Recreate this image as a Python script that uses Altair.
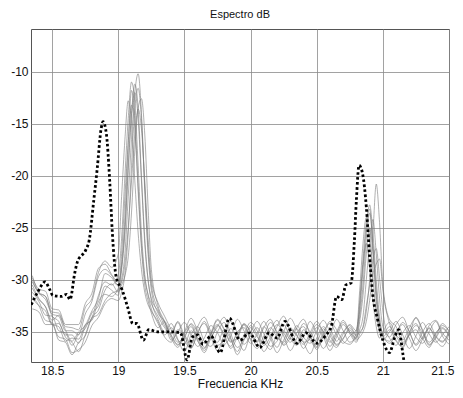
import altair as alt
import pandas as pd

# Shared frequency grid (KHz) for the grey spectra
freq = [18.35, 18.40, 18.45, 18.50, 18.55, 18.60, 18.65, 18.70, 18.75, 18.80, 18.85, 18.90, 18.95,
        19.00, 19.025, 19.05, 19.075, 19.10, 19.125, 19.15, 19.175, 19.20, 19.225, 19.25,
        19.30, 19.35, 19.40, 19.45, 19.50, 19.55, 19.60, 19.65, 19.70, 19.75, 19.80, 19.85, 19.90, 19.95,
        20.00, 20.05, 20.10, 20.15, 20.20, 20.25, 20.30, 20.35, 20.40, 20.45, 20.50, 20.55, 20.60, 20.65,
        20.70, 20.75, 20.80,
        20.825, 20.85, 20.875, 20.90, 20.925, 20.95, 20.975, 21.00,
        21.05, 21.10, 21.15, 21.20, 21.25, 21.30, 21.35, 21.40, 21.45, 21.50]

s1 = [-30.5, -31.8, -32.6, -33.9, -33.4, -34.8, -35.9, -35.0, -34.4, -33.0, -31.8, -29.4, -29.8,
      -30.6, -28.5, -24.0, -17.0, -11.8, -14.5, -21.0, -26.5, -29.8, -31.4, -32.3,
      -33.5, -34.6, -35.2, -34.1, -35.8, -36.6, -35.0, -34.2, -35.5, -36.8, -35.3, -34.0, -35.1, -36.2, -35.4, -34.6,
      -35.9, -36.7, -35.2, -34.3, -35.6, -36.3, -34.8, -35.5, -36.4, -35.0, -34.2, -35.3, -36.1, -35.4, -34.8,
      -32.5, -28.0, -24.5, -23.2, -27.0, -31.5, -34.0, -35.2,
      -34.5, -35.8, -36.4, -35.0, -34.2, -35.6, -36.5, -35.1, -34.6, -35.3]
s2 = [-29.6, -31.2, -31.6, -33.5, -34.0, -35.5, -36.0, -36.9, -35.3, -33.6, -32.9, -31.0, -30.4,
      -31.2, -30.0, -27.5, -22.0, -16.5, -12.0, -10.2, -14.0, -21.5, -27.5, -31.0,
      -33.2, -34.0, -35.6, -36.5, -35.1, -34.3, -35.8, -37.0, -35.6, -34.5, -33.6, -35.2, -36.5, -35.7, -34.4, -35.3,
      -36.9, -35.8, -34.5, -33.5, -35.0, -36.2, -35.5, -34.0, -35.2, -36.6, -35.4, -33.8, -34.9, -36.0, -35.5,
      -35.0, -34.6, -33.0, -30.0, -25.5, -20.8, -24.5, -30.5,
      -33.8, -34.5, -36.0, -35.2, -33.6, -34.8, -36.2, -35.5, -34.2, -35.0]
s3 = [-31.2, -32.1, -33.4, -33.5, -34.9, -35.1, -36.3, -35.2, -34.7, -33.2, -32.5, -30.6, -31.0,
      -31.5, -29.0, -25.5, -19.5, -14.0, -11.2, -13.5, -20.0, -26.0, -30.0, -32.0,
      -33.8, -35.0, -34.2, -35.7, -36.9, -35.3, -34.5, -35.9, -36.4, -35.0, -34.1, -35.6, -37.2, -35.8, -34.6, -35.5,
      -36.1, -34.8, -33.9, -35.4, -36.8, -35.6, -34.2, -35.0, -35.9, -34.7, -35.8, -36.5, -35.2, -34.3, -34.9,
      -31.0, -26.5, -24.0, -25.8, -29.8, -33.2, -35.0, -35.8,
      -35.0, -34.0, -35.3, -36.6, -35.4, -34.1, -35.2, -36.0, -35.3, -34.5]
s4 = [-30.0, -31.3, -31.6, -33.1, -33.2, -34.5, -34.6, -34.8, -32.7, -31.8, -29.3, -28.2, -28.8,
      -27.5, -22.0, -16.5, -12.8, -15.0, -20.5, -25.5, -29.0, -31.2, -32.4, -33.0,
      -34.2, -35.5, -36.0, -34.8, -35.3, -36.2, -34.5, -33.6, -35.0, -36.3, -35.8, -34.7, -35.6, -36.8, -35.1, -34.0,
      -35.2, -36.4, -35.9, -34.9, -35.7, -34.6, -33.8, -35.3, -36.7, -35.5, -34.8, -35.9, -35.0, -34.4, -35.3,
      -33.5, -30.5, -26.0, -23.6, -26.5, -31.0, -34.2, -35.5,
      -35.9, -35.0, -34.3, -35.6, -36.8, -35.7, -34.4, -33.9, -35.1, -35.8]
s5 = [-32.8, -33.1, -34.3, -34.3, -35.5, -35.7, -37.0, -36.7, -36.0, -34.4, -33.6, -32.3, -31.8,
      -32.0, -31.2, -29.5, -25.5, -19.0, -13.5, -11.6, -14.5, -21.0, -27.0, -30.5,
      -32.8, -34.1, -35.3, -36.2, -35.6, -34.2, -35.1, -36.5, -35.3, -33.9, -34.8, -36.0, -35.2, -34.3, -35.8, -36.6,
      -35.4, -34.1, -35.0, -36.2, -35.3, -34.7, -36.0, -37.1, -35.6, -34.5, -35.4, -36.3, -35.7, -34.6, -35.4,
      -34.8, -33.5, -30.0, -26.5, -24.2, -27.5, -31.8, -34.5,
      -35.6, -36.3, -35.1, -34.4, -35.5, -36.1, -35.0, -34.0, -35.4, -36.2]
s6 = [-30.8, -31.9, -32.6, -34.3, -34.5, -35.9, -35.6, -35.7, -34.3, -33.9, -32.1, -31.4, -31.6,
      -30.8, -27.5, -22.0, -16.8, -13.2, -15.5, -21.5, -27.0, -30.5, -32.0, -33.2,
      -34.6, -34.0, -35.4, -36.3, -35.0, -33.7, -34.9, -36.1, -35.6, -34.4, -35.2, -36.6, -35.5, -34.2, -35.0, -35.9,
      -34.5, -35.6, -37.0, -35.8, -34.6, -35.4, -36.2, -35.1, -34.0, -35.1, -36.4, -35.2, -34.1, -35.0, -35.6,
      -32.0, -28.5, -26.5, -28.8, -32.0, -34.5, -35.6, -35.0,
      -34.1, -35.4, -36.2, -35.3, -34.8, -35.7, -34.6, -35.8, -36.4, -35.2]
s7 = [-29.8, -30.9, -31.1, -32.8, -32.9, -34.3, -34.3, -34.3, -32.3, -31.3, -28.9, -28.5, -29.5,
      -30.2, -28.8, -25.0, -19.0, -14.0, -12.0, -14.5, -20.5, -26.5, -30.0, -31.8,
      -33.0, -34.4, -35.1, -34.0, -35.4, -36.5, -35.2, -34.0, -35.3, -36.0, -34.8, -35.7, -36.9, -35.3, -34.1, -34.9,
      -36.3, -35.5, -34.3, -35.1, -36.0, -35.1, -34.5, -35.8, -36.5, -35.3, -34.0, -34.8, -35.9, -36.2, -35.0,
      -33.0, -29.0, -25.0, -22.8, -25.5, -30.0, -33.5, -35.3,
      -36.1, -35.2, -34.1, -35.0, -36.3, -35.5, -34.7, -35.5, -36.0, -34.9]
s8 = [-31.6, -32.5, -33.9, -34.1, -35.8, -36.0, -37.2, -36.0, -35.4, -33.7, -33.3, -32.0, -31.3,
      -31.0, -30.5, -29.6, -27.8, -23.5, -17.5, -13.5, -12.6, -16.0, -23.0, -29.0,
      -32.5, -34.0, -35.8, -35.0, -34.1, -35.3, -36.4, -35.6, -34.4, -35.1, -36.2, -35.4, -33.8, -34.9, -36.1, -35.2,
      -34.0, -35.3, -36.5, -35.0, -33.7, -34.8, -36.0, -35.7, -34.6, -35.5, -36.8, -35.5, -34.3, -35.2, -36.0,
      -35.2, -34.5, -32.5, -30.5, -28.0, -27.0, -29.8, -33.0,
      -35.5, -34.3, -33.6, -35.0, -36.2, -35.0, -34.2, -35.4, -35.9, -35.1]
s9 = [-31.8, -32.5, -33.0, -34.3, -34.2, -35.3, -35.3, -36.1, -34.5, -33.7, -31.5, -30.2, -30.5,
      -29.5, -26.0, -20.0, -14.5, -11.0, -13.0, -19.0, -25.5, -29.5, -31.5, -32.8,
      -34.0, -35.3, -34.6, -35.8, -36.2, -34.9, -35.6, -36.8, -35.2, -34.3, -35.5, -36.4, -35.0, -34.6, -35.7, -36.0,
      -34.6, -33.8, -35.2, -36.3, -35.6, -34.4, -35.5, -36.1, -34.9, -33.9, -35.0, -36.2, -35.6, -34.8, -35.7,
      -34.0, -31.5, -27.5, -25.0, -27.5, -32.0, -34.8, -35.5,
      -34.8, -35.9, -36.5, -35.3, -34.4, -35.1, -36.3, -35.6, -34.7, -35.4]
s10 = [-30.2, -31.3, -31.9, -33.3, -33.5, -34.9, -34.9, -35.3, -33.3, -32.1, -29.7, -29.0, -29.6,
       -30.5, -30.2, -28.5, -25.0, -20.5, -16.0, -13.6, -15.5, -20.5, -26.0, -30.0,
       -32.2, -33.5, -34.8, -36.0, -35.4, -34.5, -35.9, -36.6, -35.1, -33.8, -34.7, -35.9, -35.6, -34.3, -35.0, -36.4,
       -35.8, -34.6, -35.5, -36.0, -34.8, -35.3, -36.6, -35.4, -34.3, -35.0, -36.0, -35.0, -33.9, -35.0, -35.8,
       -35.5, -35.0, -34.0, -32.0, -29.5, -28.5, -28.0, -31.0,
       -34.2, -35.3, -35.8, -34.6, -33.7, -34.9, -36.0, -35.2, -34.4, -34.9]

grey_series = [s1, s2, s3, s4, s5, s6, s7, s8, s9, s10]

# Dotted reference spectrum
dot_f = [18.342, 18.39, 18.447, 18.48, 18.505, 18.57, 18.61, 18.635, 18.67, 18.69, 18.755, 18.78,
         18.815, 18.84, 18.87, 18.885, 18.91, 18.935, 18.955, 18.985, 19.03, 19.07, 19.11, 19.14,
         19.19, 19.23, 19.30, 19.40, 19.47, 19.52, 19.56, 19.60, 19.64, 19.70, 19.77, 19.84, 19.92,
         19.99, 20.07, 20.14, 20.20, 20.26, 20.35, 20.42, 20.50, 20.57, 20.61, 20.65, 20.69, 20.72,
         20.76, 20.785, 20.80, 20.82, 20.845, 20.875, 20.90, 20.92, 20.96, 21.00, 21.05, 21.09,
         21.12, 21.15, 21.17]
dot_db = [-32.4, -31.2, -30.2, -30.9, -31.5, -31.6, -31.4, -31.9, -29.4, -28.3, -27.1, -26.2,
          -22.3, -19.4, -15.5, -14.8, -16.0, -20.5, -25.5, -29.8, -31.0, -32.6, -34.2, -34.2,
          -35.8, -34.8, -35.0, -35.0, -35.1, -37.7, -35.5, -35.3, -36.2, -35.4, -37.0, -33.7, -35.8,
          -35.1, -36.5, -35.1, -35.6, -34.0, -36.1, -35.1, -36.1, -35.3, -34.5, -31.6, -31.9, -30.5,
          -30.3, -26.2, -22.3, -19.0, -19.7, -23.0, -27.8, -31.0, -33.8, -35.8, -37.0, -35.5,
          -34.8, -37.0, -38.8]

x_ticks = [18.5, 19, 19.5, 20, 20.5, 21, 21.5]
y_ticks = [-35, -30, -25, -20, -15, -10]

rows = []
for i, s in enumerate(grey_series):
    assert len(s) == len(freq), (i, len(s))
    for f, v in zip(freq, s):
        rows.append({"f": f, "db": v, "serie": f"s{i+1}"})
grey_df = pd.DataFrame(rows)
dot_df = pd.DataFrame({"f": dot_f, "db": dot_db})

FONT = "Liberation Sans"

xscale = alt.Scale(domain=[18.34, 21.5], nice=False, zero=False)
yscale = alt.Scale(domain=[-37.9, -5.9], nice=False, zero=False)

xaxis = alt.Axis(values=x_ticks, title="Frecuencia KHz", labelExpr="'' + datum.value",
                 grid=True, gridColor="#8a8a8a", gridWidth=0.8, gridOpacity=1,
                 ticks=False, domain=False, labelPadding=3, labelFontSize=12,
                 labelFlush=True, labelFlushOffset=5,
                 labelColor="#111", titleFontSize=12, titleFontWeight="normal",
                 titleColor="#111", titlePadding=2, labelFont=FONT, titleFont=FONT)
yaxis = alt.Axis(values=y_ticks, title=None, labelExpr="'' + datum.value",
                 grid=True, gridColor="#8a8a8a", gridWidth=0.8, gridOpacity=1,
                 ticks=False, domain=False, labelPadding=3, labelFontSize=12,
                 labelColor="#111", labelFont=FONT)

grey = alt.Chart(grey_df).mark_line(
    color="#7a7a7a", strokeWidth=0.7, opacity=0.85, interpolate="monotone", clip=True
).encode(
    x=alt.X("f:Q", scale=xscale, axis=xaxis),
    y=alt.Y("db:Q", scale=yscale, axis=yaxis),
    detail="serie:N",
)

dotted = alt.Chart(dot_df).mark_line(
    color="#000000", strokeWidth=2.8, strokeDash=[2.6, 2.4], strokeCap="butt",
    interpolate="monotone", clip=True
).encode(
    x=alt.X("f:Q", scale=xscale),
    y=alt.Y("db:Q", scale=yscale),
)

chart = alt.layer(grey, dotted).properties(
    width=418, height=333,
    title=alt.TitleParams("Espectro dB", fontSize=11, fontWeight="normal", font=FONT,
                          color="#111", offset=9, anchor="middle"),
    autosize=alt.AutoSizeParams(type="none"),
    padding={"left": 23, "top": 21, "right": 6, "bottom": 27},
).configure_view(stroke="#555", strokeWidth=1)

chart.save("out.html", embed_options={"renderer": "svg", "actions": False})
